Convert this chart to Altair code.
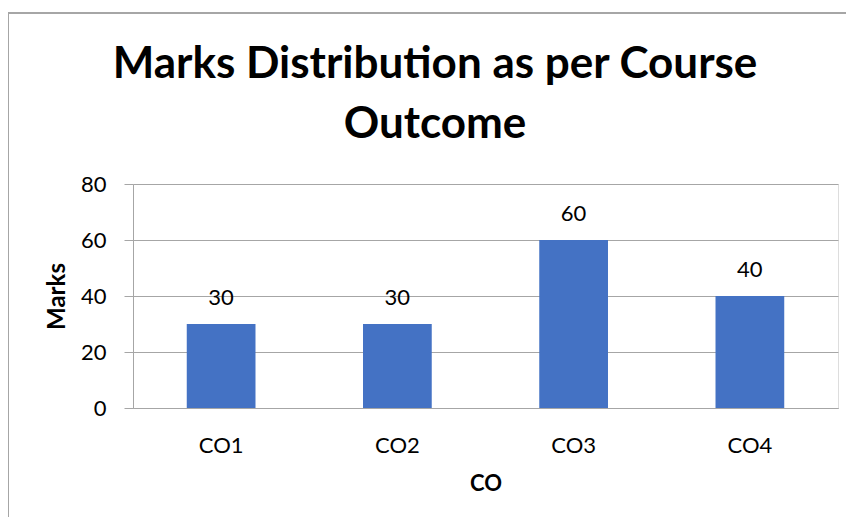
import altair as alt
import pandas as pd

categories = ["CO1", "CO2", "CO3", "CO4"]
marks = [30, 30, 60, 40]
y_ticks = [0, 20, 40, 60, 80]
title_lines = ["Marks Distribution as per Course", "Outcome"]

df = pd.DataFrame({"CO": categories, "Marks": marks})

FONT = "Lato"
GRID = "#a6a6a6"

base = alt.Chart(df)

x_enc = alt.X(
    "CO:N",
    sort=categories,
    scale=alt.Scale(paddingInner=0.61, paddingOuter=0.305),
    axis=alt.Axis(
        title="CO", labelAngle=0, ticks=False, domainColor=GRID,
        labelFont=FONT, labelFontSize=22, labelColor="#000000", labelPadding=27,
        titleFont=FONT, titleFontSize=22, titleFontWeight="bold", titleColor="#000000",
        titlePadding=17,
    ),
)
y_enc = alt.Y(
    "Marks:Q",
    scale=alt.Scale(domain=[0, 80], nice=False),
    axis=alt.Axis(
        title="Marks", values=y_ticks, grid=True, gridColor=GRID, domainColor=GRID,
        tickColor=GRID, tickSize=9,
        labelFont=FONT, labelFontSize=22, labelColor="#000000", labelPadding=18,
        titleFont=FONT, titleFontSize=24, titleFontWeight="bold", titleColor="#000000",
        titlePadding=11,
    ),
)

bars = base.mark_bar(color="#4472C4").encode(x=x_enc, y=y_enc)
labels = base.mark_text(
    font=FONT, fontSize=22, color="#000000", baseline="alphabetic", dy=-19
).encode(x=alt.X("CO:N", sort=categories), y="Marks:Q", text="Marks:Q")

title1 = alt.Chart(pd.DataFrame({"t": [title_lines[0]]})).mark_text(
    font=FONT, fontSize=44, fontWeight="bold", color="#000000",
    align="center", baseline="alphabetic",
).encode(text="t:N", x=alt.value(302), y=alt.value(-106))
title2 = alt.Chart(pd.DataFrame({"t": [title_lines[1]]})).mark_text(
    font=FONT, fontSize=44, fontWeight="bold", color="#000000",
    align="center", baseline="alphabetic",
).encode(text="t:N", x=alt.value(302), y=alt.value(-46))

frame_top = base.mark_rule(color=GRID, strokeWidth=1.5).encode(
    x=alt.value(-125), x2=alt.value(720), y=alt.value(-171)
)
frame_left = base.mark_rule(color=GRID, strokeWidth=1.5).encode(
    x=alt.value(-125), y=alt.value(-171), y2=alt.value(345)
)

chart = (
    alt.layer(frame_top, frame_left, title1, title2, bars, labels)
    .properties(
        width=705,
        height=224,
        autosize=alt.AutoSizeParams(type="none"),
        padding={"left": 125, "top": 176, "right": 8, "bottom": 109},
    )
    .configure_view(stroke=None)
    .configure(background="white")
)

chart.save("out.html", embed_options={"renderer": "svg", "actions": False})
